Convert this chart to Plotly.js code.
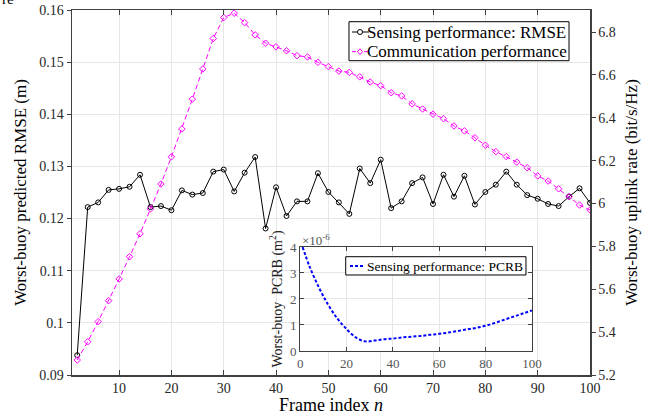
<!DOCTYPE html>
<html>
<head>
<meta charset="utf-8">
<script src="https://cdn.plot.ly/plotly-3.0.1.min.js"></script>
<style>html,body{margin:0;padding:0;background:#fff;}#chart{width:658px;height:415px;}</style>
</head>
<body>
<div id="chart"></div>
<script>
const frames = [2,4,6,8,10,12,14,16,18,20,22,24,26,28,30,32,34,36,38,40,42,44,46,48,50,52,54,56,58,60,62,64,66,68,70,72,74,76,78,80,82,84,86,88,90,92,94,96,98,100];
const rmse = [0.0938,0.1222,0.1231,0.1255,0.1257,0.1261,0.1284,0.1222,0.1224,0.1216,0.1254,0.1246,0.1249,0.1290,0.1294,0.1252,0.1288,0.1318,0.1181,0.1260,0.1205,0.1233,0.1233,0.1287,0.1251,0.1231,0.1209,0.1296,0.1268,0.1313,0.1220,0.1233,0.1268,0.1279,0.1228,0.1284,0.1242,0.1282,0.1227,0.1251,0.1265,0.1290,0.1265,0.1245,0.1238,0.1228,0.1224,0.1242,0.1258,0.1230];
const rate = [5.270,5.355,5.449,5.547,5.648,5.752,5.859,5.975,6.091,6.218,6.348,6.487,6.628,6.770,6.868,6.888,6.844,6.787,6.748,6.731,6.713,6.690,6.684,6.659,6.639,6.618,6.612,6.591,6.567,6.550,6.517,6.502,6.465,6.441,6.417,6.396,6.362,6.339,6.307,6.272,6.242,6.219,6.193,6.167,6.129,6.105,6.069,6.032,5.993,5.970];
const pcrbFrames = [1,4,8,12,16,20,24,28,32,36,40,44,48,52,56,60,64,68,72,76,80,84,88,92,96,100];
const pcrb = [4.0e-6,3.25e-6,2.45e-6,1.78e-6,1.25e-6,0.84e-6,0.52e-6,0.37e-6,0.40e-6,0.45e-6,0.48e-6,0.52e-6,0.55e-6,0.58e-6,0.62e-6,0.66e-6,0.71e-6,0.77e-6,0.83e-6,0.89e-6,0.97e-6,1.08e-6,1.20e-6,1.32e-6,1.44e-6,1.56e-6];
const xTicks = [10,20,30,40,50,60,70,80,90,100];
const leftTicks = [0.09,0.10,0.11,0.12,0.13,0.14,0.15,0.16];
const leftTickText = ['0.09','0.1','0.11','0.12','0.13','0.14','0.15','0.16'];
const rightTicks = [5.2,5.4,5.6,5.8,6.0,6.2,6.4,6.6,6.8];
const rightTickText = ['5.2','5.4','5.6','5.8','6','6.2','6.4','6.6','6.8'];
const insetXTicks = [0,20,40,60,80,100];
const insetYTicks = [0,1e-6,2e-6,3e-6,4e-6];
const insetYTickText = ['0','1','2','3','4'];
const names = ['Sensing performance: RMSE','Communication performance','Sensing performance: PCRB'];

const serif = 'Liberation Serif';
const axCol = '#404040';
const tickFont = {family: serif, size: 14, color: '#262626'};
const colors = ['#000000', '#ff00ff', '#0000ff'];
const dashes = ['solid', '5px,3px', '3px,2px'];

const traces = [
  {x: frames, y: rmse, name: names[0], type: 'scatter', mode: 'lines+markers',
   xaxis: 'x', yaxis: 'y', showlegend: false,
   line: {color: colors[0], width: 1},
   marker: {symbol: 'circle-open', size: 5, color: colors[0], line: {width: 1}}},
  {x: frames, y: rate, name: names[1], type: 'scatter', mode: 'lines+markers',
   xaxis: 'x', yaxis: 'y2', showlegend: false,
   line: {color: colors[1], width: 1, dash: dashes[1]},
   marker: {symbol: 'diamond-open', size: 5, color: colors[1], line: {width: 1}}},
  {x: pcrbFrames, y: pcrb, name: names[2], type: 'scatter', mode: 'lines',
   xaxis: 'x3', yaxis: 'y3', showlegend: false,
   line: {color: colors[2], width: 2, dash: dashes[2], shape: 'spline'}}
];

// Legend boxes (drawn manually to match the compact MATLAB legend layout)
const P = {
  box1: [0.5347, 0.9595, 0.8611, 0.9679], rows1: [0.9397, 0.8858], line1: [0.5405, 0.5734], mk1: 0.5560, txt1: 0.5740,
  box2: [0.5284, 0.8764, 0.2740, 0.3241], row2: 0.2986, line2: [0.5367, 0.5656], txt2: 0.5740
};
const shapes = [
  {type: 'rect', xref: 'paper', yref: 'paper', x0: P.box1[0], x1: P.box1[1], y0: P.box1[2], y1: P.box1[3],
   fillcolor: '#fff', line: {color: '#000', width: 1}, layer: 'above'},
  {type: 'line', xref: 'paper', yref: 'paper', x0: P.line1[0], x1: P.line1[1], y0: P.rows1[0], y1: P.rows1[0],
   line: {color: colors[0], width: 1}, layer: 'above'},
  {type: 'circle', xref: 'paper', yref: 'paper', xsizemode: 'pixel', ysizemode: 'pixel',
   xanchor: P.mk1, yanchor: P.rows1[0], x0: -2.5, x1: 2.5, y0: -2.5, y1: 2.5,
   fillcolor: '#fff', line: {color: colors[0], width: 1}, layer: 'above'},
  {type: 'line', xref: 'paper', yref: 'paper', x0: P.line1[0], x1: P.line1[1], y0: P.rows1[1], y1: P.rows1[1],
   line: {color: colors[1], width: 1, dash: '4px,2px'}, layer: 'above'},
  {type: 'path', xref: 'paper', yref: 'paper', xsizemode: 'pixel', ysizemode: 'pixel',
   xanchor: P.mk1, yanchor: P.rows1[1], path: 'M0,3L2.5,0L0,-3L-2.5,0Z',
   fillcolor: '#fff', line: {color: colors[1], width: 1}, layer: 'above'},
  {type: 'rect', xref: 'paper', yref: 'paper', x0: P.box2[0], x1: P.box2[1], y0: P.box2[2], y1: P.box2[3],
   fillcolor: '#fff', line: {color: '#000', width: 1}, layer: 'above'},
  {type: 'line', xref: 'paper', yref: 'paper', x0: P.line2[0], x1: P.line2[1], y0: P.row2, y1: P.row2,
   line: {color: colors[2], width: 2, dash: dashes[2]}, layer: 'above'}
];

const layout = {
  width: 658, height: 415,
  margin: {l: 72, r: 68, t: 10, b: 40},
  paper_bgcolor: '#fff', plot_bgcolor: '#fff',
  font: {family: serif, color: '#262626'},
  showlegend: false,
  xaxis: {
    domain: [0, 1], range: [1, 100], tickvals: xTicks, ticktext: xTicks.map(String),
    ticks: 'inside', ticklen: 5, tickcolor: axCol, showline: true, linecolor: axCol, linewidth: 1.5,
    mirror: 'ticks', showgrid: true, gridcolor: '#e6e6e6', gridwidth: 1, zeroline: false,
    tickfont: tickFont,
    title: {text: 'Frame index <i>n</i>', font: {family: serif, size: 18, color: '#000'}, standoff: 2}
  },
  yaxis: {
    range: [0.09, 0.16], tickvals: leftTicks, ticktext: leftTickText,
    ticks: 'outside', ticklen: 4, tickcolor: axCol, showline: true, linecolor: axCol, linewidth: 1.5,
    showgrid: true, gridcolor: '#e6e6e6', gridwidth: 1, zeroline: false, tickfont: tickFont,
    title: {text: 'Worst-buoy predicted RMSE (m)', font: {family: serif, size: 17, color: '#000'}, standoff: 8}
  },
  yaxis2: {
    overlaying: 'y', side: 'right', range: [5.2, 6.903], tickvals: rightTicks, ticktext: rightTickText,
    ticks: 'outside', ticklen: 4, tickcolor: axCol, showline: true, linecolor: axCol, linewidth: 1.5,
    showgrid: false, zeroline: false, tickfont: tickFont,
    title: {text: 'Worst-buoy uplink rate (bit/s/Hz)', font: {family: serif, size: 17, color: '#000'}, standoff: 10}
  },
  xaxis3: {
    domain: [0.4407, 0.888], anchor: 'y3', range: [0, 100], tickvals: insetXTicks, ticktext: insetXTicks.map(String),
    ticks: 'inside', ticklen: 4, tickcolor: axCol, showline: true, linecolor: axCol, linewidth: 1.2,
    mirror: 'ticks', showgrid: true, gridcolor: '#e6e6e6', zeroline: false,
    tickfont: {family: serif, size: 13, color: '#555'}
  },
  yaxis3: {
    domain: [0.0658, 0.3507], anchor: 'x3', range: [0, 4e-6], tickvals: insetYTicks, ticktext: insetYTickText,
    ticks: 'inside', ticklen: 4, tickcolor: axCol, showline: true, linecolor: axCol, linewidth: 1.2,
    mirror: 'ticks', showgrid: true, gridcolor: '#e6e6e6', zeroline: false,
    tickfont: {family: serif, size: 13, color: '#555'},
    title: {text: 'Worst-buoy  PCRB (m<sup>2</sup>)', font: {family: serif, size: 14, color: '#222'}, standoff: 4}
  },
  shapes: shapes,
  annotations: [
    {text: names[0], xref: 'paper', yref: 'paper', x: P.txt1, y: P.rows1[0], xanchor: 'left', yanchor: 'middle',
     showarrow: false, font: {family: serif, size: 17, color: '#000'}, xshift: -4},
    {text: names[1], xref: 'paper', yref: 'paper', x: P.txt1, y: P.rows1[1], xanchor: 'left', yanchor: 'middle',
     showarrow: false, font: {family: serif, size: 17, color: '#000'}, xshift: -4},
    {text: names[2], xref: 'paper', yref: 'paper', x: P.txt2, y: P.row2, xanchor: 'left', yanchor: 'middle',
     showarrow: false, font: {family: serif, size: 13.5, color: '#000'}, xshift: -4},
    {text: '×10<sup>-6</sup>', xref: 'x3 domain', yref: 'y3 domain', x: 0, y: 1, xanchor: 'left', yanchor: 'bottom',
     showarrow: false, font: {family: serif, size: 13, color: '#555'}, yshift: -3},
    {text: 're', xref: 'paper', yref: 'paper', x: -0.139, y: 1.03, xanchor: 'left', yanchor: 'middle',
     showarrow: false, font: {family: serif, size: 15, color: '#000'}}
  ]
};

Plotly.newPlot('chart', traces, layout, {displayModeBar: false, staticPlot: true});
</script>
</body>
</html>
